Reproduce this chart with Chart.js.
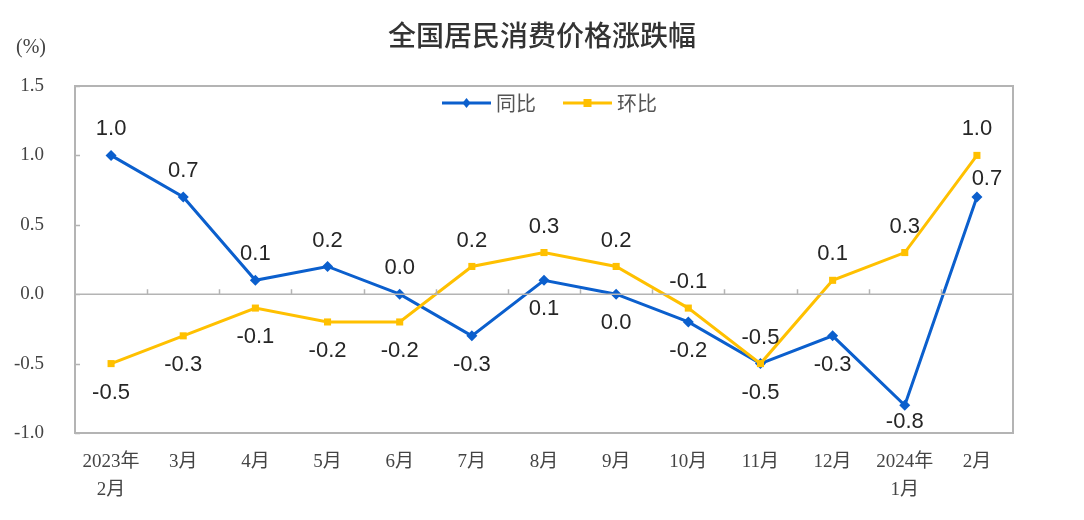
<!DOCTYPE html>
<html>
<head>
<meta charset="utf-8">
<script src="https://cdn.jsdelivr.net/npm/chart.js@4/dist/chart.umd.min.js"></script>
<style>
  html, body { margin: 0; padding: 0; background: #fff; }
  #wrap { width: 1084px; height: 520px; }
</style>
</head>
<body>
<div id="wrap"><canvas id="cpiChart"></canvas></div>
<script>
// 数据
const chartTitle = '全国居民消费价格涨跌幅';
const months = [['2023年', '2月'], '3月', '4月', '5月', '6月', '7月', '8月', '9月', '10月', '11月', '12月', ['2024年', '1月'], '2月'];
const yoy = [1.0, 0.7, 0.1, 0.2, 0.0, -0.3, 0.1, 0.0, -0.2, -0.5, -0.3, -0.8, 0.7];   // 同比
const mom = [-0.5, -0.3, -0.1, -0.2, -0.2, 0.2, 0.3, 0.2, -0.1, -0.5, 0.1, 0.3, 1.0];  // 环比
const yTicks = [-1.0, -0.5, 0.0, 0.5, 1.0, 1.5];

const blue = '#0b5fcd';
const yellow = '#ffc000';
const frameColor = '#b4b4b4';

// 标题、边框、零线、刻度、单位
const framePlugin = {
    id: 'frame',
    afterDraw(chart) {
        const ctx = chart.ctx;
        const a = chart.chartArea;
        const ys = chart.scales.y;
        const y0 = ys.getPixelForValue(0);
        ctx.save();
        ctx.strokeStyle = frameColor;
        ctx.lineWidth = 2;
        ctx.strokeRect(a.left, a.top, a.right - a.left, a.bottom - a.top);
        ctx.lineWidth = 1.5;
        ctx.beginPath();
        ctx.moveTo(a.left, y0);
        ctx.lineTo(a.right, y0);
        const step = (a.right - a.left) / months.length;
        for (let k = 1; k < months.length; k++) {
            const x = Math.round(a.left + k * step) + 0.5;
            ctx.moveTo(x, y0);
            ctx.lineTo(x, y0 - 5);
        }
        yTicks.forEach(v => {
            const y = Math.round(ys.getPixelForValue(v)) + 0.5;
            ctx.moveTo(a.left, y);
            ctx.lineTo(a.left + 5, y);
        });
        ctx.stroke();

        ctx.textAlign = 'center';
        ctx.textBaseline = 'middle';
        ctx.fillStyle = '#333';
        ctx.font = '500 28px "Noto Sans CJK SC"';
        ctx.fillText(chartTitle, chart.width / 2, 35);

        ctx.fillStyle = '#444';
        ctx.font = '20px "Liberation Serif"';
        ctx.fillText('(%)', 31, 48);
        ctx.restore();
    }
};

const legendPlugin = {
    id: 'innerLegend',
    afterDatasetsDraw(chart) {
        const ctx = chart.ctx;
        const items = [
            { text: '同比', color: blue, x: 442, style: 'diamond' },
            { text: '环比', color: yellow, x: 563, style: 'square' }
        ];
        const y = 103;
        ctx.save();
        items.forEach(it => {
            ctx.strokeStyle = it.color;
            ctx.fillStyle = it.color;
            ctx.lineWidth = 3;
            ctx.beginPath();
            ctx.moveTo(it.x, y);
            ctx.lineTo(it.x + 49, y);
            ctx.stroke();
            const cx = it.x + 24.5;
            ctx.beginPath();
            if (it.style === 'diamond') {
                ctx.moveTo(cx, y - 5);
                ctx.lineTo(cx + 4, y);
                ctx.lineTo(cx, y + 5);
                ctx.lineTo(cx - 4, y);
                ctx.closePath();
            } else {
                ctx.rect(cx - 4, y - 4, 8, 8);
            }
            ctx.fill();
            ctx.fillStyle = '#555';
            ctx.font = '20px "Noto Sans CJK SC"';
            ctx.textAlign = 'left';
            ctx.textBaseline = 'middle';
            ctx.fillText(it.text, it.x + 54, y);
        });
        ctx.restore();
    }
};

// 数据标签：较高的一条放上方，较低的一条放下方
const labelPlugin = {
    id: 'pointLabels',
    afterDatasetsDraw(chart) {
        const ctx = chart.ctx;
        const a = chart.chartArea;
        ctx.save();
        ctx.font = '22px "Liberation Sans"';
        ctx.fillStyle = '#262626';
        ctx.textAlign = 'center';
        ctx.textBaseline = 'middle';
        chart.data.datasets.forEach((ds, di) => {
            const meta = chart.getDatasetMeta(di);
            const other = chart.data.datasets[1 - di].data;
            meta.data.forEach((pt, i) => {
                const v = ds.data[i];
                const isYellow = ds.data === mom;
                const above = isYellow ? v >= other[i] : v > other[i];
                let x = pt.x;
                let y;
                if (above) {
                    y = pt.y - 26;
                } else if (i === ds.data.length - 1) {
                    x = pt.x + 10;
                    y = pt.y - 18;
                } else {
                    y = Math.min(pt.y + 29, a.bottom - 11);
                }
                ctx.fillText(v.toFixed(1), x, y);
            });
        });
        ctx.restore();
    }
};

new Chart(document.getElementById('cpiChart'), {
    type: 'line',
    data: {
        labels: months,
        datasets: [{
            label: '同比',
            data: yoy,
            borderColor: blue,
            backgroundColor: blue,
            borderWidth: 3,
            pointStyle: 'rectRot',
            pointRadius: 5.5,
            pointBorderWidth: 0,
            tension: 0,
            order: 1
        }, {
            label: '环比',
            data: mom,
            borderColor: yellow,
            backgroundColor: yellow,
            borderWidth: 3,
            pointStyle: 'rect',
            pointRadius: 5,
            pointBorderWidth: 0,
            tension: 0,
            order: 0
        }]
    },
    options: {
        responsive: true,
        maintainAspectRatio: false,
        animation: false,
        devicePixelRatio: 1,
        layout: { padding: { left: 0, right: 71, top: 86, bottom: 0 } },
        plugins: {
            legend: { display: false },
            tooltip: { enabled: false },
            title: { display: false }
        },
        scales: {
            x: {
                offset: true,
                grid: { display: false },
                border: { display: false },
                ticks: {
                    color: '#444',
                    font: { family: '"Liberation Serif", "Noto Sans CJK SC"', size: 19, lineHeight: 1.47 },
                    padding: 7,
                    maxRotation: 0,
                    autoSkip: false
                },
                afterFit(scale) { scale.height = 87; }
            },
            y: {
                min: -1.0,
                max: 1.5,
                afterBuildTicks(scale) { scale.ticks = yTicks.map(v => ({ value: v })); },
                grid: { display: false },
                border: { display: false },
                ticks: {
                    color: '#444',
                    font: { family: '"Liberation Serif"', size: 19 },
                    padding: 23,
                    callback: v => v.toFixed(1)
                },
                afterFit(scale) { scale.width = 75; }
            }
        }
    },
    plugins: [framePlugin, labelPlugin, legendPlugin]
});
</script>
</body>
</html>
